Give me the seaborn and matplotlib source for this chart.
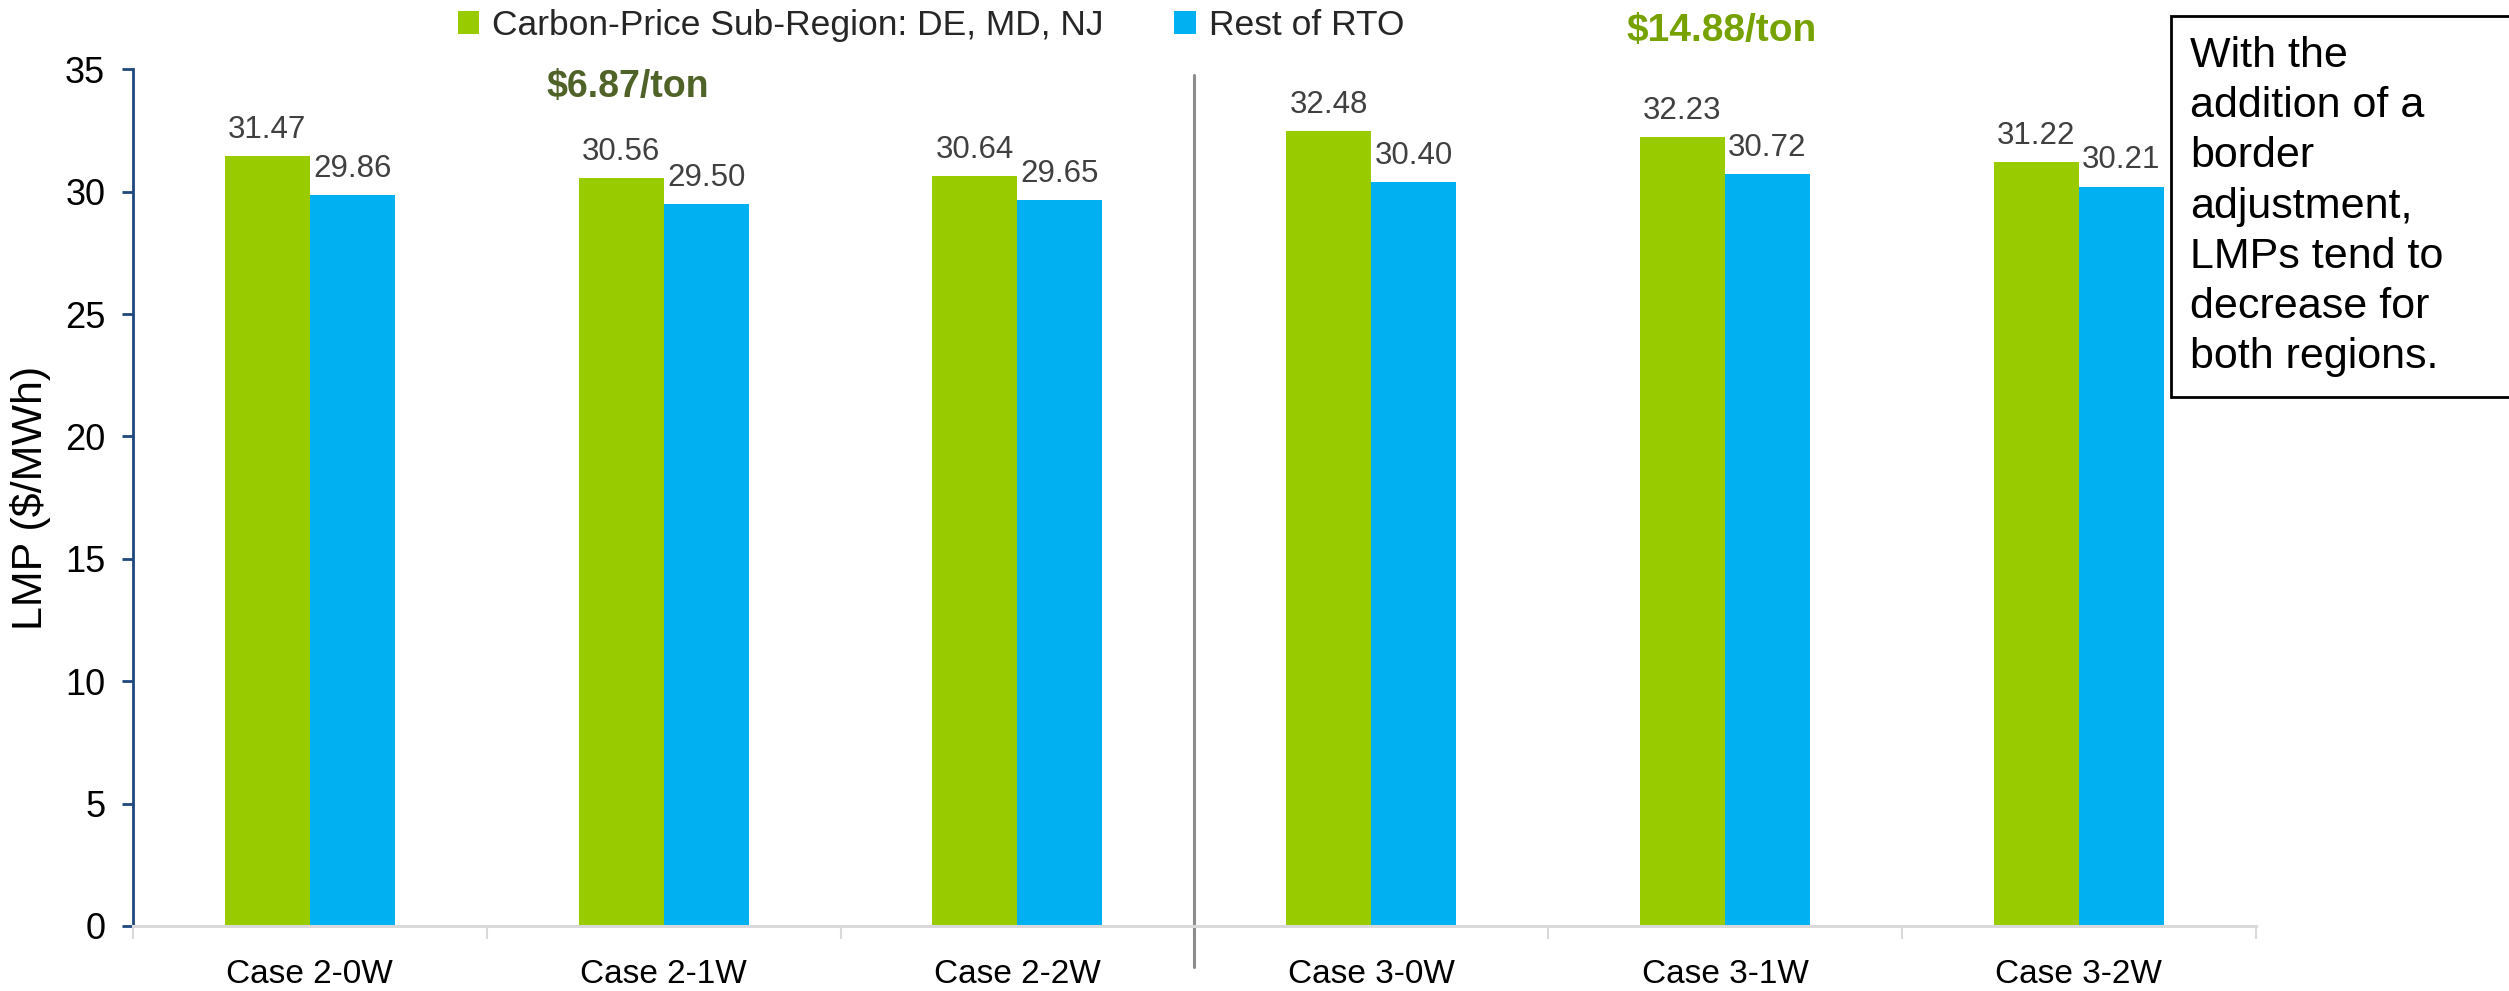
import matplotlib
matplotlib.use("Agg")
import matplotlib.pyplot as plt
import seaborn as sns
import pandas as pd
from matplotlib.patches import Patch, Rectangle

cases = ["Case 2-0W", "Case 2-1W", "Case 2-2W", "Case 3-0W", "Case 3-1W", "Case 3-2W"]
series_names = ["Carbon-Price Sub-Region: DE, MD, NJ", "Rest of RTO"]
carbon_region = [31.47, 30.56, 30.64, 32.48, 32.23, 31.22]
rest_of_rto = [29.86, 29.50, 29.65, 30.40, 30.72, 30.21]
yticks = [0, 5, 10, 15, 20, 25, 30, 35]
price_labels = ["$6.87/ton", "$14.88/ton"]
note_text = "With the\naddition of a\nborder\nadjustment,\nLMPs tend to\ndecrease for\nboth regions."

colors = ["#99CC00", "#00B0F0"]

sns.set_theme(style="white")
plt.rcParams["font.family"] = ["Liberation Sans", "DejaVu Sans"]

df = pd.DataFrame({
    "case": cases * 2,
    "lmp": carbon_region + rest_of_rto,
    "region": [series_names[0]] * len(cases) + [series_names[1]] * len(cases),
})

fig = plt.figure(figsize=(25.09, 9.91), dpi=100)
ax = fig.add_axes([0.053, 0.0656, 0.846, 0.8644])

sns.barplot(data=df, x="case", y="lmp", hue="region", hue_order=series_names,
            palette=colors, width=0.48, gap=0, saturation=1, ax=ax, legend=False,
            edgecolor="none", linewidth=0)

for cont in ax.containers:
    ax.bar_label(cont, fmt="%.2f", padding=8, fontsize=22.5, color="#404040")

ax.set_xlim(-0.5, len(cases) - 0.5)
ax.set_ylim(0, 35)
ax.set_yticks(yticks)
ax.set_ylabel("LMP ($/MWh)", fontsize=31, color="black", labelpad=10)
ax.set_xlabel("")

for s in ["top", "right"]:
    ax.spines[s].set_visible(False)
ax.spines["left"].set_color("#1F497D")
ax.spines["left"].set_linewidth(2)
ax.spines["bottom"].set_color("#D9D9D9")
ax.spines["bottom"].set_linewidth(2.2)

ax.tick_params(axis="y", which="major", left=True, length=8, width=2, color="#1F497D",
               labelsize=26, labelcolor="black", pad=12)
ax.tick_params(axis="x", which="major", bottom=False, labelsize=24, labelcolor="black", pad=18)
ax.set_xticks([i - 0.5 for i in range(len(cases) + 1)], minor=True)
ax.tick_params(axis="x", which="minor", bottom=True, length=9, width=1.5, color="#D9D9D9")

# separator between case groups
ax.axvline(2.5, ymin=-0.048, ymax=0.994, clip_on=False, color="#8C8C8C", lw=2.2)

# carbon price annotations
ax.text(0.90, 34.3, price_labels[0], ha="center", va="center", fontsize=27,
        fontweight="bold", color="#4F6228", clip_on=False)
ax.text(3.99, 36.55, price_labels[1], ha="center", va="center", fontsize=28,
        fontweight="bold", color="#76A200", clip_on=False)

# legend
handles = [Patch(facecolor=c, edgecolor="none") for c in colors]
fig.legend(handles, series_names, loc="center left", bbox_to_anchor=(0.1753, 0.974),
           ncol=2, frameon=False, fontsize=25.5, handlelength=0.62, handleheight=0.62,
           handletextpad=0.35, columnspacing=2.0, borderpad=0)

# note box
rect = Rectangle((0.8653, 0.5994), 0.2, 0.3845, transform=fig.transFigure,
                 facecolor="white", edgecolor="black", lw=2, zorder=5)
fig.patches.append(rect)
fig.text(0.873, 1 - 36 / 991, note_text, ha="left", va="top", fontsize=31,
         linespacing=1.33, color="black", zorder=6)

fig.savefig("out.png", dpi=100)
